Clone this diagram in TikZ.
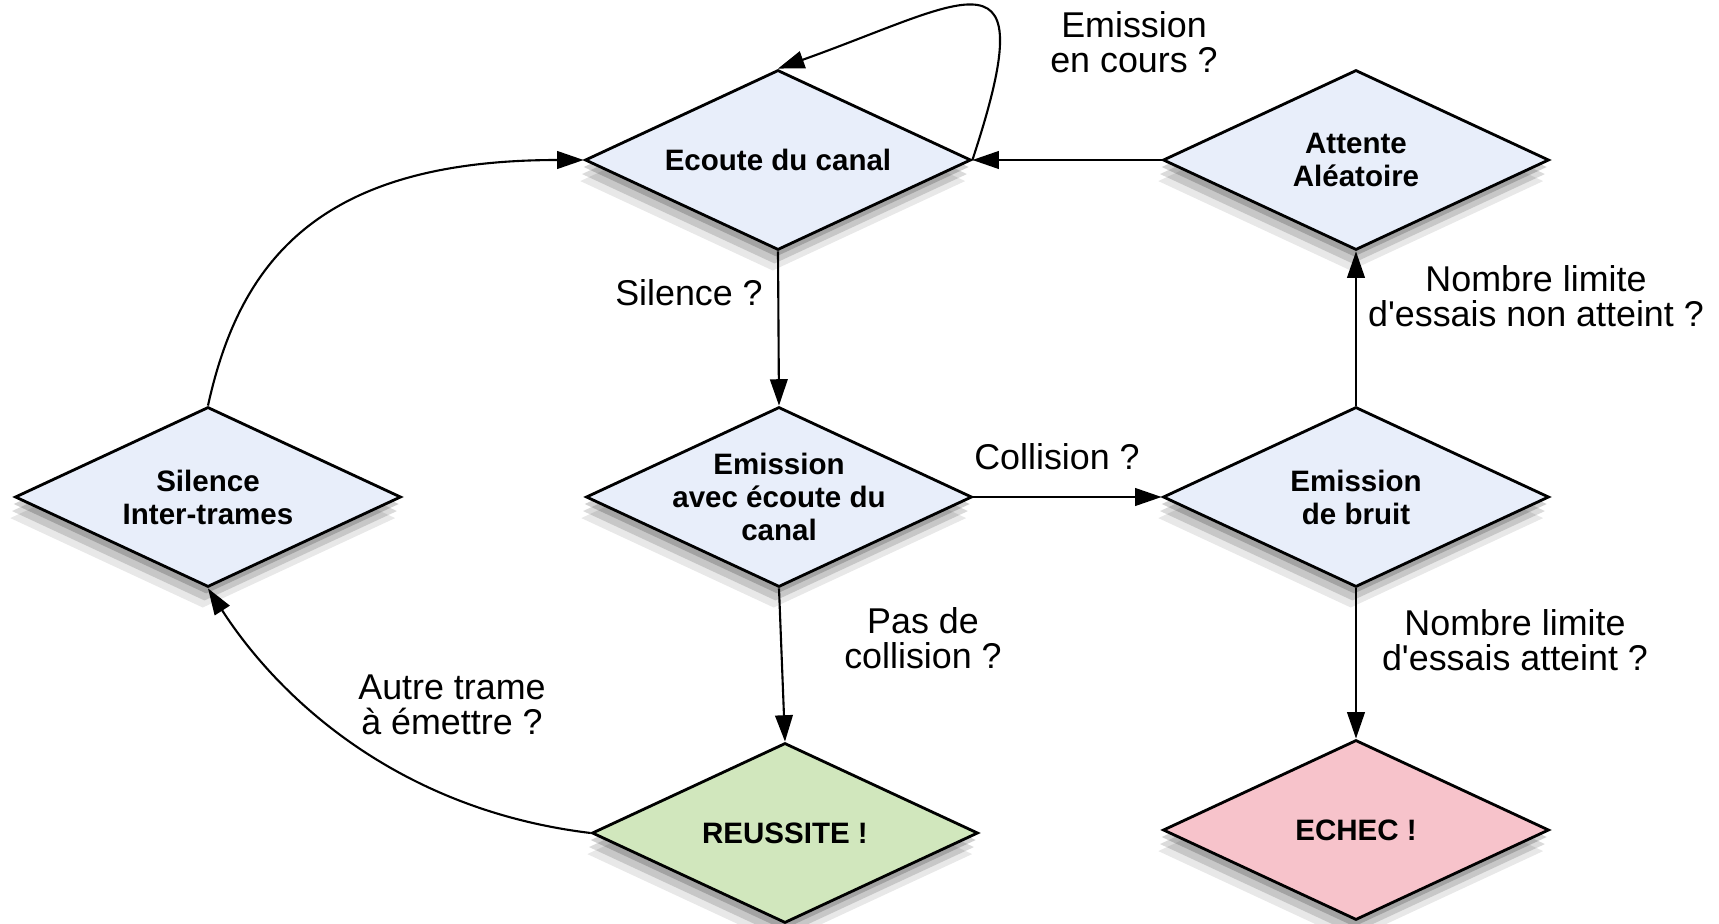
\documentclass[tikz,border=0pt]{standalone}
\usepackage{fontspec}
\setmainfont{Liberation Sans}[Ligatures=TeXOff]
\usetikzlibrary{shapes.geometric,shadows,arrows.meta}

\definecolor{etatbleu}{RGB}{232,238,250}
\definecolor{etatvert}{RGB}{209,231,189}
\definecolor{etatrose}{RGB}{247,195,203}

\tikzset{
  etat/.style={draw, diamond, line width=0.8pt, fill=etatbleu,
    minimum width=3.86cm, minimum height=1.8cm, inner sep=-14pt, align=center,
    font=\bfseries\fontsize{8.4}{9.4}\selectfont,
    drop shadow={shadow xshift=-0.5pt, shadow yshift=-2pt, opacity=0.18, fill=black},
    drop shadow={shadow xshift=-1pt, shadow yshift=-4pt, opacity=0.14, fill=black},
    drop shadow={shadow xshift=-1.5pt, shadow yshift=-6pt, opacity=0.09, fill=black}},
  cond/.style={align=center, font=\fontsize{10.2}{10}\selectfont, inner sep=0pt},
  fleche/.style={draw, line width=0.6pt, -{Triangle[length=7.5pt,width=5pt]}}
}

\begin{document}
\begin{tikzpicture}
\useasboundingbox (0,0) rectangle (17.19,-9.24);

\node[etat] (ecoute) at (7.78,-1.60) {Ecoute du canal};
\node[etat] (emission) at (7.79,-4.97) {Emission\\avec écoute du\\canal};
\node[etat] (bruit) at (13.56,-4.97) {Emission\\de bruit};
\node[etat] (attente) at (13.56,-1.60) {Attente\\Aléatoire};
\node[etat] (silence) at (2.08,-4.97) {Silence\\Inter-trames};
\node[etat, fill=etatvert] (reussite) at (7.85,-8.33) {REUSSITE !};
\node[etat, fill=etatrose] (echec) at (13.56,-8.30) {ECHEC !};

\node[cond] (lcours) at (11.34,-0.42) {Emission\\en cours ?};
\node[cond] (lsilence) at (6.89,-2.93) {Silence ?};
\node[cond] (lcollision) at (10.57,-4.57) {Collision ?};
\node[cond] (lnonatteint) at (15.36,-2.96) {Nombre limite\\d'essais non atteint ?};
\node[cond] (lpascollision) at (9.23,-6.38) {Pas de\\collision ?};
\node[cond] (lautre) at (4.52,-7.05) {Autre trame\\à émettre ?};
\node[cond] (latteint) at (15.15,-6.40) {Nombre limite\\d'essais atteint ?};

\path[fleche] (ecoute.south) -- (emission.north);
\path[fleche] (emission.south) -- (reussite.north);
\path[fleche] (emission.east) -- (bruit.west);
\path[fleche] (bruit.north) -- (attente.south);
\path[fleche] (bruit.south) -- (echec.north);
\path[fleche] (attente.west) -- (ecoute.east);

\path[fleche] (ecoute.east) .. controls (10.45,0.60) and (9.70,0.00) .. (ecoute.north);
\path[fleche] (reussite.west) .. controls (4.00,-8.10) and (2.80,-7.00) .. (silence.south);
\path[fleche] (silence.north) .. controls (2.40,-2.60) and (3.20,-1.60) .. (ecoute.west);

\end{tikzpicture}
\end{document}
